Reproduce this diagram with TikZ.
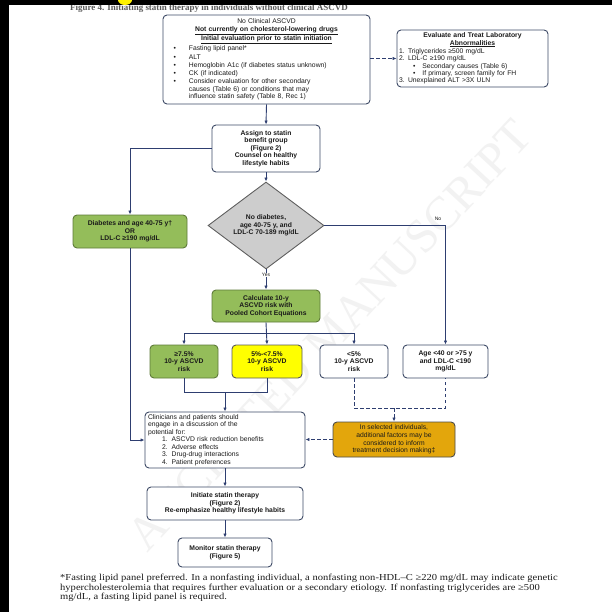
\documentclass[tikz,border=0pt]{standalone}
\usepackage{fontspec}
\setmainfont{Liberation Serif}
\setsansfont{Liberation Sans}
\usetikzlibrary{arrows.meta,shapes.geometric}
\definecolor{edge}{HTML}{3E4A66}
\definecolor{lineblue}{HTML}{2E3E70}
\definecolor{grn}{HTML}{94BD5A}
\definecolor{grnb}{HTML}{5E7A3A}
\definecolor{yel}{HTML}{FFFF00}
\definecolor{org}{HTML}{E3A60C}
\definecolor{dia}{HTML}{CDCDCD}
\definecolor{txt}{HTML}{1A1A1A}
\begin{document}
\begin{tikzpicture}[x=1bp,y=-1bp,
  box/.style={draw=edge, line width=0.9bp, rounded corners=4bp, fill=white, text=txt,
    font=\sffamily\bfseries\fontsize{6.8}{7.6}\selectfont, align=center, inner sep=1bp},
  reg/.style={font=\sffamily\fontsize{6.8}{7.6}\selectfont},
  tight/.style={font=\sffamily\fontsize{6.8}{7.3}\selectfont},
  conn/.style={draw=lineblue, line width=0.9bp},
  arr/.style={conn, -{Latex[length=4bp,width=3.4bp]}},
  dsh/.style={dash pattern=on 3.5bp off 2.5bp},
  lbl/.style={font=\sffamily\fontsize{5}{5}\selectfont, text=txt, inner sep=0.5bp}]
\useasboundingbox (0,0) rectangle (612,612);
\fill[white] (0,0) rectangle (612,612);
% watermark
\node[text=gray!10, font=\rmfamily\fontsize{48}{48}\selectfont, rotate=47] (wm) at (330,335) {ACCEPTED MANUSCRIPT};
% title
\node[anchor=base west, text=gray!70!black, font=\rmfamily\bfseries\fontsize{9}{9}\selectfont, inner sep=0] (title) at (70,11) {Figure 4. Initiating statin therapy in individuals without clinical ASCVD};
% boxes
\node[box, tight, minimum width=207bp, minimum height=89bp, text width=202bp, align=left] (b1) at (266.5,59.5) {%
{\centering No Clinical ASCVD\\\textbf{\underline{Not currently on cholesterol-lowering drugs}}\\\textbf{\underline{Initial evaluation prior to statin initiation}}\par}\vspace{1bp}
\hspace*{8bp}\textbullet\hspace{13bp}Fasting lipid panel*\par\vspace{1bp}
\hspace*{8bp}\textbullet\hspace{13bp}ALT\par\vspace{1bp}
\hspace*{8bp}\textbullet\hspace{13bp}Hemoglobin A1c (if diabetes status unknown)\par\vspace{1bp}
\hspace*{8bp}\textbullet\hspace{13bp}CK (if indicated)\par\vspace{1bp}
\hspace*{8bp}\textbullet\hspace{13bp}\parbox[t]{170bp}{Consider evaluation for other secondary\\causes (Table 6) or conditions that may\\influence statin safety (Table 8, Rec 1)}};
\node[box, tight, minimum width=151bp, minimum height=57bp, text width=147bp, align=left] (ev) at (472.5,58.5) {%
{\centering\textbf{Evaluate and Treat Laboratory}\\\textbf{\underline{Abnormalities}}\par}\vspace{1.2bp}
1. Triglycerides ≥500 mg/dL\\
2. LDL-C ≥190 mg/dL\\
\hspace*{14bp}\textbullet\hspace{7bp}Secondary causes (Table 6)\\
\hspace*{14bp}\textbullet\hspace{7bp}If primary, screen family for FH\\
3. Unexplained ALT >3X ULN};
\node[box, minimum width=108bp, minimum height=47bp] (asg) at (266,148.5) {Assign to statin\\benefit group\\(Figure 2)\\Counsel on healthy\\lifestyle habits};
\node[box, diamond, draw=gray!75!black, fill=dia, rounded corners=0, minimum width=116bp, minimum height=86bp, inner sep=0] (dm) at (266,225.5) {No diabetes,\\age 40-75 y, and\\LDL-C 70-189 mg/dL};
\node[box, fill=grn, draw=grnb, minimum width=114bp, minimum height=33bp] (gl) at (130,231.5) {Diabetes and age 40-75 y†\\OR\\LDL-C ≥190 mg/dL};
\node[box, fill=grn, draw=grnb, minimum width=108bp, minimum height=32bp] (calc) at (266,306) {Calculate 10-y\\ASCVD risk with\\Pooled Cohort Equations};
\node[box, fill=grn, draw=grnb, minimum width=68bp, minimum height=33bp] (r1) at (184,361.5) {≥7.5\%\\10-y ASCVD\\risk};
\node[box, fill=yel, draw=gray!70!black, minimum width=70bp, minimum height=33bp] (r2) at (267,361.5) {5\%-<7.5\%\\10-y ASCVD\\risk};
\node[box, minimum width=68bp, minimum height=33bp] (r3) at (354,361.5) {<5\%\\10-y ASCVD\\risk};
\node[box, minimum width=85bp, minimum height=33bp] (age) at (445.5,361.5) {Age <40 or >75 y\\and LDL-C <190\\mg/dL};
\node[box, reg, fill=org, draw=gray!60!black, minimum width=122bp, minimum height=35bp] (org) at (394,439.5) {In selected individuals,\\additional factors may be\\considered to inform\\treatment decision making‡};
\node[box, reg, minimum width=160bp, minimum height=56bp, text width=154bp, align=left] (cl) at (225,440) {%
Clinicians and patients should\\engage in a discussion of the\\potential for:\\
\hspace*{14bp}1.\hspace{4bp}ASCVD risk reduction benefits\\
\hspace*{14bp}2.\hspace{4bp}Adverse effects\\
\hspace*{14bp}3.\hspace{4bp}Drug-drug interactions\\
\hspace*{14bp}4.\hspace{4bp}Patient preferences};
\node[box, minimum width=156bp, minimum height=33bp] (init) at (225,503.5) {Initiate statin therapy\\(Figure 2)\\Re-emphasize healthy lifestyle habits};
\node[box, minimum width=94bp, minimum height=29bp] (mon) at (225,552.5) {Monitor statin therapy\\(Figure 5)};
% connectors
\draw[arr] (b1.south) -- (asg.north);
\draw[arr, dsh] (ev.west -| b1.east) -- (ev.west);
\draw[arr] (asg.south) -- (dm.north);
\draw[arr] (asg.west) -| (gl.north);
\draw[arr] (gl.south) |- (cl.west);
\draw[arr] (dm.east) -| (age.north);
\node[lbl] (nolbl) at (438,219) {No};
\draw[arr] (dm.south) -- (calc.north);
\node[lbl, fill=white] (yeslbl) at (266,275) {Yes};
\coordinate (split) at (266,333);
\draw[arr] (calc.south) -- (r2.north);
\draw[conn] (r1.north |- split) -- (r3.north |- split);
\draw[arr] (r1.north |- split) -- (r1.north);
\draw[arr] (r3.north |- split) -- (r3.north);
\coordinate (join) at (225,392);
\draw[conn] (r1.south) |- (r2.south |- join) -- (r2.south);
\draw[arr] (cl.north |- join) -- (cl.north);
\coordinate (djoin) at (395,408);
\draw[conn, dsh] (r3.south) |- (age.south |- djoin) -- (age.south);
\draw[arr, dsh] (org.north |- djoin) -- (org.north);
\draw[arr, dsh] (org.west) -- (cl.east |- org.west);
\draw[arr] (cl.south) -- (init.north);
\draw[arr] (init.south) -- (mon.north);
% footnote
\node[anchor=north west, inner sep=0] (fn) at (60,574) {\scalebox{1.15}[1]{\parbox{440bp}{\raggedright\rmfamily\color{txt}\fontsize{9.2}{9.6}\selectfont *Fasting lipid panel preferred. In a nonfasting individual, a nonfasting non-HDL–C ≥220 mg/dL may indicate genetic\\hypercholesterolemia that requires further evaluation or a secondary etiology. If nonfasting triglycerides are ≥500\\mg/dL, a fasting lipid panel is required.}}};
% frame artifacts
\fill[black] (0,0) rectangle (9,612);
\fill[black] (0,0) rectangle (612,5);
\fill[yellow] (125,0) ellipse (7 and 5);
\end{tikzpicture}
\end{document}
